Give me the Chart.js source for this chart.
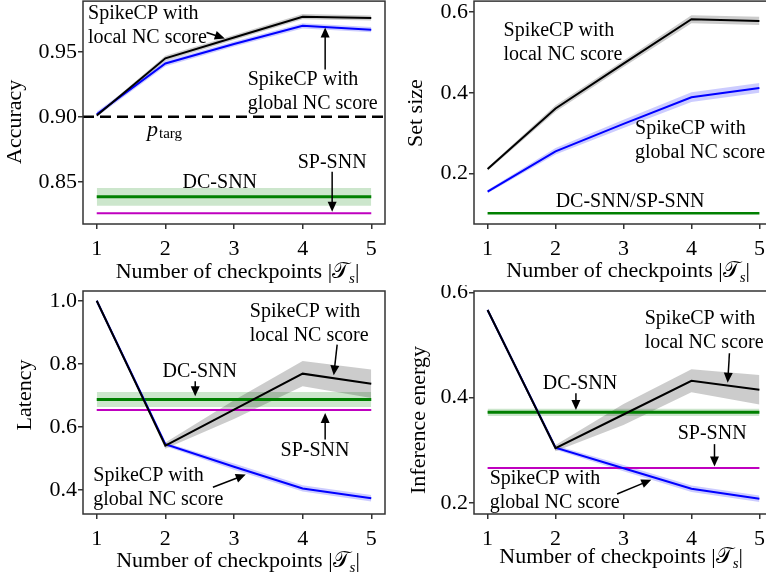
<!DOCTYPE html>
<html>
<head>
<meta charset="utf-8">
<script src="https://cdn.jsdelivr.net/npm/chart.js@4.4.1/dist/chart.umd.min.js"></script>
<style>
  html, body { margin: 0; padding: 0; background: #fff; overflow: hidden; }
  #wrap { position: relative; width: 766px; height: 575px; overflow: hidden; }
  canvas { position: absolute; }
  #fontprobe { position: absolute; left: -9999px; top: 0; font-family: "Liberation Serif"; }
</style>
</head>
<body>
<div id="fontprobe">Ab <i>Ab</i> 𝒯</div>
<div id="wrap">
  <canvas id="c1" width="390" height="285" style="left:0;top:0"></canvas>
  <canvas id="c2" width="395" height="285" style="left:383px;top:0"></canvas>
  <canvas id="c3" width="390" height="290" style="left:0;top:285px"></canvas>
  <canvas id="c4" width="395" height="290" style="left:383px;top:285px"></canvas>
</div>
<script>
// x axis
var checkpoints = [1, 2, 3, 4, 5];
var xTicks = [1, 2, 3, 4, 5];
var xRange = [0.8, 5.2];
var baselineSpan = [1, 5];

// accuracy
var accLocal = [0.901, 0.945, 0.961, 0.977, 0.976];
var accLocalErr = [0.001, 0.002, 0.002, 0.002, 0.002];
var accGlobal = [0.902, 0.941, 0.956, 0.970, 0.967];
var accGlobalErr = [0.002, 0.002, 0.002, 0.002, 0.002];
var accDC = 0.8385, accDCErr = 0.0068;
var accSP = 0.8258;
var pTarg = 0.90;
var accTicks = [0.85, 0.90, 0.95];

// set size
var setLocal = [0.211, 0.361, 0.472, 0.582, 0.578];
var setLocalErr = [0.004, 0.008, 0.008, 0.010, 0.010];
var setGlobal = [0.155, 0.255, 0.323, 0.389, 0.412];
var setGlobalErr = [0.004, 0.008, 0.010, 0.012, 0.012];
var setDCSP = 0.1015;
var setTicks = [0.2, 0.4, 0.6];

// latency
var latLocal = [1.0, 0.541, 0.655, 0.769, 0.737];
var latLocalErr = [0.0, 0.010, 0.030, 0.040, 0.045];
var latGlobal = [1.0, 0.545, 0.474, 0.405, 0.374];
var latGlobalErr = [0.0, 0.006, 0.010, 0.010, 0.010];
var latDC = 0.687, latDCErr = 0.024;
var latSP = 0.654;
var latTicks = [0.4, 0.6, 0.8, 1.0];

// inference energy
var enLocal = [0.5665, 0.304, 0.368, 0.432, 0.415];
var enLocalErr = [0.0, 0.006, 0.020, 0.022, 0.028];
var enGlobal = [0.5665, 0.305, 0.266, 0.227, 0.208];
var enGlobalErr = [0.0, 0.004, 0.006, 0.006, 0.006];
var enDC = 0.372, enDCErr = 0.007;
var enSP = 0.2664;
var enTicks = [0.2, 0.4, 0.6];

var FONT = '"Liberation Serif", serif';
var BLACK = '#000000', BLUE = '#0000ff', GREEN = '#008000', MAGENTA = '#bf00bf';

function pts(vals) {
  return checkpoints.map(function(c, i) { return { x: c, y: vals[i] }; });
}
function shifted(vals, errs, sign) {
  return checkpoints.map(function(c, i) { return { x: c, y: vals[i] + sign * errs[i] }; });
}
function flat(v, span) {
  return [{ x: span[0], y: v }, { x: span[1], y: v }];
}
function lineDs(data, color, width, order, dash) {
  return { data: data, borderColor: color, borderWidth: width, pointRadius: 0, fill: false,
           tension: 0, borderDash: dash || [], order: order };
}
function bandDs(hi, lo, color) {
  return [
    { data: hi, borderWidth: 0, borderColor: 'rgba(0,0,0,0)', pointRadius: 0, fill: '+1', backgroundColor: color, order: 10 },
    { data: lo, borderWidth: 0, borderColor: 'rgba(0,0,0,0)', pointRadius: 0, fill: false, order: 10 }
  ];
}

function drawArrow(ctx, x0, y0, x1, y1) {
  var a = Math.atan2(y1 - y0, x1 - x0), hl = 10, hw = 4.5;
  var c = Math.cos(a), s = Math.sin(a);
  ctx.strokeStyle = '#000'; ctx.fillStyle = '#000'; ctx.lineWidth = 1.5;
  ctx.beginPath(); ctx.moveTo(x0, y0); ctx.lineTo(x1 - hl * 0.8 * c, y1 - hl * 0.8 * s); ctx.stroke();
  ctx.beginPath();
  ctx.moveTo(x1, y1);
  ctx.lineTo(x1 - hl * c + hw * s, y1 - hl * s - hw * c);
  ctx.lineTo(x1 - hl * c - hw * s, y1 - hl * s + hw * c);
  ctx.closePath(); ctx.fill();
}

var notesPlugin = {
  id: 'notes',
  afterDraw: function(chart) {
    var o = chart.options.plugins.notes;
    var ctx = chart.ctx, xs = chart.scales.x, ys = chart.scales.y, ca = chart.chartArea;
    ctx.save();
    // frame
    ctx.strokeStyle = '#333'; ctx.lineWidth = 1.5;
    ctx.strokeRect(ca.left, ca.top, ca.right - ca.left, ca.bottom - ca.top);
    // annotations
    ctx.fillStyle = '#000';
    ctx.font = '20px ' + FONT;
    ctx.textBaseline = 'middle';
    o.texts.forEach(function(t) {
      var lines = t.text.split('\n');
      var px = xs.getPixelForValue(t.x), py = ys.getPixelForValue(t.y);
      ctx.textAlign = t.align || 'left';
      var y0 = py - (lines.length - 1) * 12;
      lines.forEach(function(l, i) { ctx.fillText(l, px, y0 + i * 24); });
    });
    o.arrows.forEach(function(a) {
      drawArrow(ctx, xs.getPixelForValue(a[0]), ys.getPixelForValue(a[1]),
                xs.getPixelForValue(a[2]), ys.getPixelForValue(a[3]));
    });
    if (o.ptarg) {
      var px = xs.getPixelForValue(o.ptarg[0]), py = ys.getPixelForValue(o.ptarg[1]);
      ctx.textAlign = 'left'; ctx.textBaseline = 'alphabetic';
      ctx.font = 'italic 22px ' + FONT;
      ctx.fillText('p', px, py + 4);
      var w = ctx.measureText('p').width;
      ctx.font = '15px ' + FONT;
      ctx.fillText('targ', px + w + 1, py + 6);
    }
    // x title
    var parts = [
      { t: 'Number of checkpoints |', f: '22px ', dy: 0 },
      { t: '𝒯', f: '22px ', dy: 0 },
      { t: 's', f: 'italic 15px ', dy: 5 },
      { t: '|', f: '22px ', dy: 0 }
    ];
    ctx.textAlign = 'left'; ctx.textBaseline = 'alphabetic';
    var total = 0;
    parts.forEach(function(p) { ctx.font = p.f + FONT; p.w = ctx.measureText(p.t).width; total += p.w; });
    var cx = (ca.left + ca.right) / 2 + o.xTitle[0] - total / 2, by = ca.bottom + o.xTitle[1];
    parts.forEach(function(p) { ctx.font = p.f + FONT; ctx.fillText(p.t, cx, by + p.dy); cx += p.w; });
    // y title
    ctx.translate(ca.left + o.yTitle[1], ca.top + o.yTitle[2]);
    ctx.rotate(-Math.PI / 2);
    ctx.font = '22px ' + FONT; ctx.textAlign = 'center'; ctx.textBaseline = 'middle';
    ctx.fillText(o.yTitle[0], 0, 0);
    ctx.restore();
  }
};

function makeChart(id, datasets, yMin, yMax, yTicks, decimals, yWidth, padTop, notes) {
  var tickFont = { family: FONT, size: 22 };
  // tiny lineHeight on the y ticks so Chart.js doesn't push the plot top down
  var yTickFont = { family: FONT, size: 22, lineHeight: 0.01 };
  var grid = { display: true, drawOnChartArea: false, drawTicks: true, tickLength: 5, color: '#333', lineWidth: 1.5 };
  return new Chart(document.getElementById(id), {
    type: 'line',
    data: { datasets: datasets },
    plugins: [notesPlugin],
    options: {
      responsive: false, animation: false, devicePixelRatio: 1, events: [],
      layout: { padding: { left: 0, right: 5, top: padTop, bottom: 0 } },
      plugins: { legend: { display: false }, tooltip: { enabled: false },
                 filler: { drawTime: 'beforeDatasetsDraw' }, notes: notes },
      scales: {
        x: {
          type: 'linear', min: xRange[0], max: xRange[1],
          afterBuildTicks: function(s) { s.ticks = xTicks.map(function(v) { return { value: v }; }); },
          afterFit: function(s) { s.height = 61; },
          grid: grid, border: { display: false },
          ticks: { font: tickFont, color: '#000', padding: 7, maxRotation: 0, autoSkip: false,
                   callback: function(v) { return String(v); } }
        },
        y: {
          type: 'linear', min: yMin, max: yMax,
          afterBuildTicks: function(s) { s.ticks = yTicks.map(function(v) { return { value: v }; }); },
          afterFit: function(s) { s.width = yWidth; },
          grid: grid, border: { display: false },
          ticks: { font: yTickFont, color: '#000', padding: 1, autoSkip: false,
                   callback: function(v) { return Number(v).toFixed(decimals); } }
        }
      }
    }
  });
}

function drawAll() {
  // Accuracy
  makeChart('c1', [].concat(
    bandDs(shifted(accLocal, accLocalErr, 1), shifted(accLocal, accLocalErr, -1), 'rgba(0,0,0,0.2)'),
    bandDs(shifted(accGlobal, accGlobalErr, 1), shifted(accGlobal, accGlobalErr, -1), 'rgba(0,0,255,0.2)'),
    bandDs(flat(accDC + accDCErr, baselineSpan), flat(accDC - accDCErr, baselineSpan), 'rgba(0,128,0,0.2)'),
    [lineDs(flat(accDC, baselineSpan), GREEN, 3, 5),
     lineDs(flat(accSP, baselineSpan), MAGENTA, 2, 4),
     lineDs(flat(pTarg, xRange), BLACK, 2.5, 0, [11, 6]),
     lineDs(pts(accGlobal), BLUE, 2, 2),
     lineDs(pts(accLocal), BLACK, 2, 1)]
  ), 0.8176, 0.989, accTicks, 2, 83, 1, {
    texts: [
      { text: 'SpikeCP with\nlocal NC score', x: 0.873, y: 0.9702 },
      { text: 'SpikeCP with\nglobal NC score', x: 3.20, y: 0.9193 },
      { text: 'DC-SNN', x: 2.793, y: 0.849, align: 'center' },
      { text: 'SP-SNN', x: 4.43, y: 0.8648, align: 'center' }
    ],
    arrows: [[2.60, 0.9649, 2.866, 0.9603], [4.328, 0.9365, 4.328, 0.9687], [4.43, 0.8577, 4.43, 0.827]],
    ptarg: [1.732, 0.8885],
    xTitle: [3.5, 54], yTitle: ['Accuracy', -68, 120.7]
  });

  // Set size
  makeChart('c2', [].concat(
    bandDs(shifted(setLocal, setLocalErr, 1), shifted(setLocal, setLocalErr, -1), 'rgba(0,0,0,0.2)'),
    bandDs(shifted(setGlobal, setGlobalErr, 1), shifted(setGlobal, setGlobalErr, -1), 'rgba(0,0,255,0.2)'),
    [lineDs(flat(setDCSP, baselineSpan), GREEN, 2.5, 5),
     lineDs(pts(setGlobal), BLUE, 2, 2),
     lineDs(pts(setLocal), BLACK, 2, 1)]
  ), 0.075, 0.627, setTicks, 1, 91, 1, {
    texts: [
      { text: 'SpikeCP with\nlocal NC score', x: 1.235, y: 0.5227 },
      { text: 'SpikeCP with\nglobal NC score', x: 3.17, y: 0.280 },
      { text: 'DC-SNN/SP-SNN', x: 3.097, y: 0.1298, align: 'center' }
    ],
    arrows: [],
    xTitle: [4.6, 52.7], yTitle: ['Set size', -57.7, 112]
  });

  // Latency
  makeChart('c3', [].concat(
    bandDs(shifted(latLocal, latLocalErr, 1), shifted(latLocal, latLocalErr, -1), 'rgba(0,0,0,0.2)'),
    bandDs(shifted(latGlobal, latGlobalErr, 1), shifted(latGlobal, latGlobalErr, -1), 'rgba(0,0,255,0.2)'),
    bandDs(flat(latDC + latDCErr, baselineSpan), flat(latDC - latDCErr, baselineSpan), 'rgba(0,128,0,0.2)'),
    [lineDs(flat(latDC, baselineSpan), GREEN, 3, 5),
     lineDs(flat(latSP, baselineSpan), MAGENTA, 2, 4),
     lineDs(pts(latGlobal), BLUE, 2, 2),
     lineDs(pts(latLocal), BLACK, 2, 1)]
  ), 0.324, 1.031, latTicks, 1, 83, 6, {
    texts: [
      { text: 'SpikeCP with\nlocal NC score', x: 3.23, y: 0.928 },
      { text: 'SpikeCP with\nglobal NC score', x: 0.95, y: 0.4067 },
      { text: 'DC-SNN', x: 2.50, y: 0.7743, align: 'center' },
      { text: 'SP-SNN', x: 4.18, y: 0.5258, align: 'center' }
    ],
    arrows: [[4.503, 0.861, 4.453, 0.7636], [2.435, 0.7445, 2.435, 0.697],
             [4.328, 0.5598, 4.328, 0.6444], [2.693, 0.4086, 3.171, 0.4489]],
    xTitle: [4, 52.7], yTitle: ['Latency', -58, 104]
  });

  // Inference energy
  makeChart('c4', [].concat(
    bandDs(shifted(enLocal, enLocalErr, 1), shifted(enLocal, enLocalErr, -1), 'rgba(0,0,0,0.2)'),
    bandDs(shifted(enGlobal, enGlobalErr, 1), shifted(enGlobal, enGlobalErr, -1), 'rgba(0,0,255,0.2)'),
    bandDs(flat(enDC + enDCErr, baselineSpan), flat(enDC - enDCErr, baselineSpan), 'rgba(0,128,0,0.2)'),
    [lineDs(flat(enDC, baselineSpan), GREEN, 3, 5),
     lineDs(flat(enSP, baselineSpan), MAGENTA, 2, 4),
     lineDs(pts(enGlobal), BLUE, 2, 2),
     lineDs(pts(enLocal), BLACK, 2, 1)]
  ), 0.179, 0.6025, enTicks, 1, 91, 6, {
    texts: [
      { text: 'SpikeCP with\nlocal NC score', x: 3.312, y: 0.5264 },
      { text: 'SpikeCP with\nglobal NC score', x: 1.03, y: 0.2226 },
      { text: 'DC-SNN', x: 2.359, y: 0.4273, align: 'center' },
      { text: 'SP-SNN', x: 4.304, y: 0.3306, align: 'center' }
    ],
    arrows: [[4.559, 0.4842, 4.533, 0.4284], [2.30, 0.4083, 2.30, 0.3767],
             [4.339, 0.3117, 4.339, 0.2692], [2.906, 0.2169, 3.409, 0.244]],
    xTitle: [-2.4, 48.7], yTitle: ['Inference energy', -54.7, 129]
  });
}

// wait for the serif face so the canvases don't fall back to sans
Promise.all([
  document.fonts.load('22px "Liberation Serif"'),
  document.fonts.load('italic 22px "Liberation Serif"')
]).then(drawAll, drawAll);
</script>
</body>
</html>
